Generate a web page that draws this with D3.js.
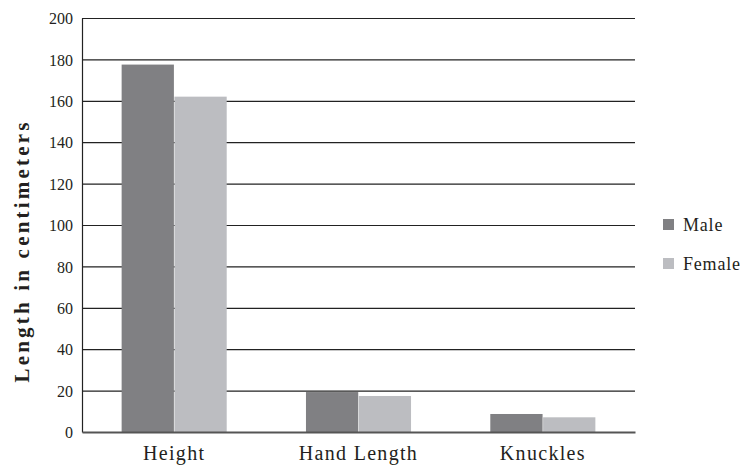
<!DOCTYPE html>
<html><head><meta charset="utf-8">
<script src="https://cdn.jsdelivr.net/npm/d3@7"></script>
<style>body{margin:0;background:#fff}svg{display:block}</style>
</head><body><svg id="c" width="749" height="470" font-family="Liberation Serif"></svg>
<script>
const categories = ["Height", "Hand Length", "Knuckles"];
const seriesNames = ["Male", "Female"];
const male = [177.5, 19.3, 8.7];
const female = [162, 17.4, 7.1];
const yTicks = [0, 20, 40, 60, 80, 100, 120, 140, 160, 180, 200];
const colors = ["#808083", "#bcbdc1"];

const FONT = "Liberation Serif";
const INK = "#231f20";
const svg = d3.select("#c");
const L = 82, R = 635, T = 18, B = 432;
const x = d3.scaleBand().domain(categories).range([L, R]).paddingInner(0.43).paddingOuter(0.215);
const xs = d3.scaleBand().domain(seriesNames).range([0, x.bandwidth()]).paddingInner(0.01);
const y = d3.scaleLinear().domain([0, 200]).range([B, T]);

// gridlines
svg.append("g").selectAll("line").data(yTicks.filter(d => d > 0)).join("line")
  .attr("x1", L).attr("x2", R).attr("y1", d => y(d) + 0.5).attr("y2", d => y(d) + 0.5)
  .attr("stroke", "#222").attr("stroke-width", 1.2);

const data = categories.map((c, i) => ({c, vals: [male[i], female[i]]}));
svg.append("g").selectAll("g").data(data).join("g")
  .attr("transform", d => `translate(${x(d.c)},0)`)
  .selectAll("rect").data(d => d.vals.map((v, j) => ({s: seriesNames[j], v, j}))).join("rect")
  .attr("x", d => xs(d.s)).attr("width", xs.bandwidth())
  .attr("y", d => y(d.v)).attr("height", d => B - y(d.v))
  .attr("fill", d => colors[d.j]);

// y axis
const ya = svg.append("g").attr("transform", `translate(${L},0)`)
  .call(d3.axisLeft(y).tickValues(yTicks).tickSize(0).tickPadding(9))
  .attr("font-family", FONT).attr("font-size", 16);
ya.select(".domain").attr("stroke", "#222").attr("stroke-width", 1.2);
ya.selectAll("text").attr("fill", INK).attr("dy", "0.36em");

// x axis
const xa = svg.append("g").attr("transform", `translate(0,${B})`)
  .call(d3.axisBottom(x).tickSize(0).tickPadding(14))
  .attr("font-family", FONT).attr("font-size", 20);
xa.select(".domain").attr("stroke", "#555").attr("stroke-width", 2);
xa.selectAll("text").attr("fill", INK).style("letter-spacing", "1.3px");

// axis title
svg.append("text").attr("transform", `translate(29,${251}) rotate(-90)`)
  .attr("text-anchor", "middle").attr("font-family", FONT).attr("font-size", 21).attr("font-weight", "bold")
  .attr("fill", INK).style("letter-spacing", "3.2px")
  .text("Length in centimeters");

// legend
const lg = svg.append("g").selectAll("g").data(seriesNames).join("g")
  .attr("transform", (d, i) => `translate(663,${219 + i * 39})`);
lg.append("rect").attr("width", 11).attr("height", 11).attr("fill", (d, i) => colors[i]);
lg.append("text").attr("x", 20).attr("y", 12).attr("font-family", FONT).attr("font-size", 18)
  .attr("fill", INK).style("letter-spacing", "0.8px").text(d => d);
</script></body></html>
